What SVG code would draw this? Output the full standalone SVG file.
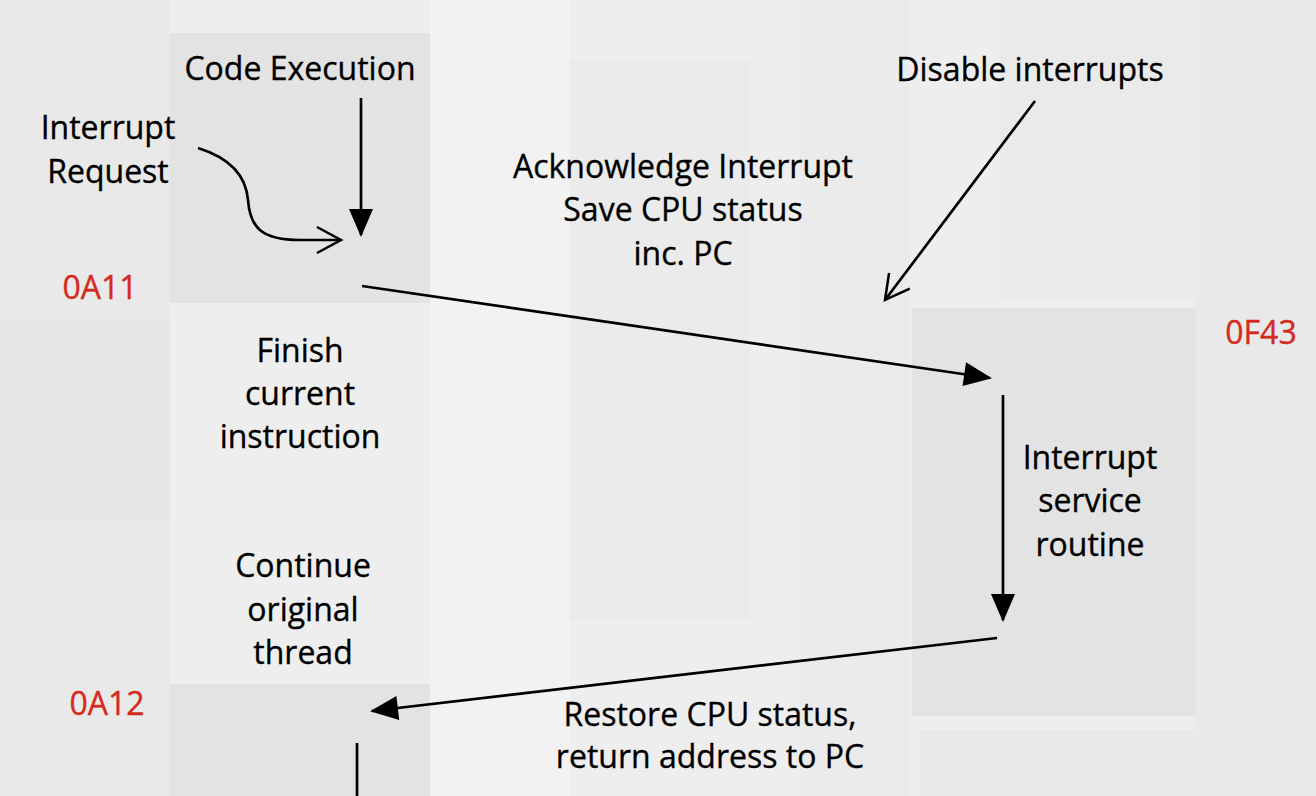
<svg xmlns="http://www.w3.org/2000/svg" width="1316" height="796" viewBox="0 0 1316 796">
<defs>
<style>
.t{font-family:"Open Sans","Liberation Sans",sans-serif;font-size:32px;fill:#000;stroke:#000;stroke-width:0.35;text-anchor:middle}
.r{fill:#d42a20;stroke:#d42a20}
.box{fill:#e3e3e3}
.ln{stroke:#000;stroke-width:2.7;fill:none}
.bg1{fill:#e9e9e9}
.bg2{fill:#f2f2f2}
</style>
<marker id="tri" refX="0" refY="0" markerUnits="userSpaceOnUse" orient="auto" overflow="visible">
<path d="M-26,-12 L2,0 L-26,12 Z" fill="#000"/>
</marker>
<marker id="chev" refX="0" refY="0" markerUnits="userSpaceOnUse" orient="auto" overflow="visible">
<path d="M-24,-13 L0,0 L-24,13" fill="none" stroke="#000" stroke-width="2.5"/>
</marker>
</defs>
<g id="background">
<rect width="1316" height="796" fill="#eeeeee"/>
<rect x="0" y="0" width="170" height="796" class="bg1"/>
<rect x="430" y="0" width="140" height="796" class="bg2"/>
<rect x="570" y="60" width="180" height="560" class="bg1" opacity="0.6"/>
<rect x="800" y="0" width="110" height="796" class="bg1" opacity="0.7"/>
<rect x="1196" y="0" width="120" height="796" class="bg1"/>
<rect x="1000" y="0" width="316" height="300" class="bg1" opacity="0.8"/>
<rect x="920" y="730" width="396" height="66" class="bg1"/>
<rect x="0" y="320" width="170" height="200" fill="#e4e4e4" opacity="0.6"/>
</g>
<g id="node-code-execution">
<rect x="170" y="33" width="260" height="270" class="box"/>
<text class="t" x="300" y="80">Code Execution</text>
</g>
<g id="node-isr">
<rect x="912" y="308" width="284" height="408" class="box"/>
<text class="t" x="1090" y="469">Interrupt</text>
<text class="t" x="1090" y="512">service</text>
<text class="t" x="1090" y="556">routine</text>
</g>
<g id="node-continue">
<rect x="170" y="684" width="260" height="112" class="box"/>
</g>
<g id="labels">
<text class="t" x="108" y="139">Interrupt</text>
<text class="t" x="108" y="183">Request</text>
<text class="t r" x="100" y="299">0A11</text>
<text class="t" x="683" y="178">Acknowledge Interrupt</text>
<text class="t" x="683" y="221">Save CPU status</text>
<text class="t" x="683" y="265">inc. PC</text>
<text class="t" x="1030" y="81">Disable interrupts</text>
<text class="t r" x="1261" y="344">0F43</text>
<text class="t" x="300" y="362">Finish</text>
<text class="t" x="300" y="405">current</text>
<text class="t" x="300" y="448">instruction</text>
<text class="t" x="303" y="577">Continue</text>
<text class="t" x="303" y="621">original</text>
<text class="t" x="303" y="664">thread</text>
<text class="t r" x="107" y="715">0A12</text>
<text class="t" x="710" y="726">Restore CPU status,</text>
<text class="t" x="710" y="768">return address to PC</text>
</g>
<g id="connectors">
<path class="ln" d="M361,98 L361,235" marker-end="url(#tri)"/>
<path class="ln" d="M198,148 C230,158 246,175 248,200 C250,228 262,240 300,240 L341,240" marker-end="url(#chev)"/>
<path class="ln" d="M362,286 L990,378" marker-end="url(#tri)"/>
<path class="ln" d="M1035,101 L885,300" marker-end="url(#chev)"/>
<path class="ln" d="M1003,395 L1003,620" marker-end="url(#tri)"/>
<path class="ln" d="M997,638 L372,711" marker-end="url(#tri)"/>
<path class="ln" d="M357,743 L357,796"/>
</g>
</svg>
